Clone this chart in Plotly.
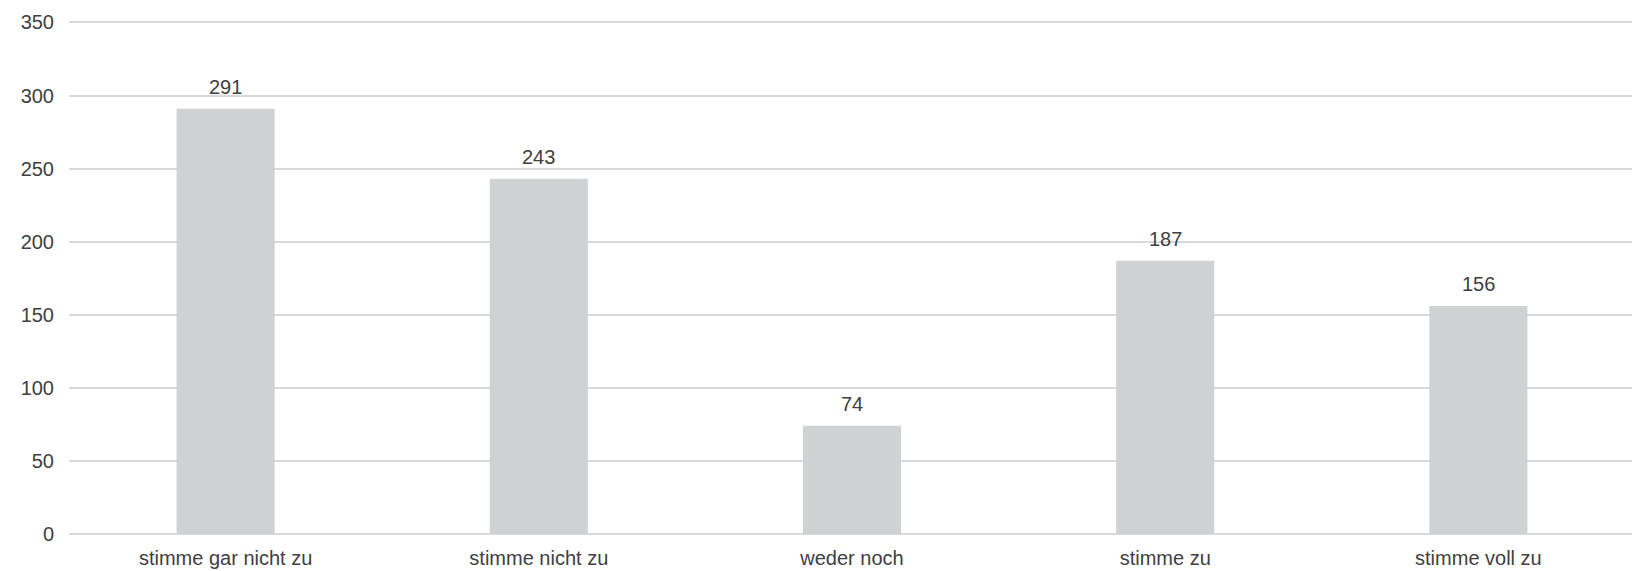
import plotly.graph_objects as go

categories = ["stimme gar nicht zu", "stimme nicht zu", "weder noch", "stimme zu", "stimme voll zu"]
values = [291, 243, 74, 187, 156]
y_ticks = [0, 50, 100, 150, 200, 250, 300, 350]

font_family = "Liberation Sans, Arial, sans-serif"
text_color = "#404040"
fsize = 20

fig = go.Figure()
fig.add_trace(go.Bar(
    x=categories,
    y=values,
    marker=dict(color="#d0d1d3", line=dict(width=0)),
    width=0.313,
    hoverinfo="x+y",
))

for c, v in zip(categories, values):
    fig.add_annotation(
        x=c, y=v, text=str(v), showarrow=False,
        yanchor="middle", yshift=22,
        font=dict(family=font_family, size=fsize, color=text_color),
    )

# page body has an 8px default margin; size the figure to fit the window
fig.update_layout(
    width=1631, height=563,
    margin=dict(l=61, r=4, t=13, b=37),
    plot_bgcolor="white", paper_bgcolor="white",
    showlegend=False,
    bargap=0.687,
    font=dict(family=font_family, size=fsize, color=text_color),
)
fig.update_xaxes(
    showgrid=False, showline=False, ticks="", automargin=False,
    ticklabelstandoff=10,
    tickfont=dict(family=font_family, size=fsize, color=text_color),
)
fig.update_yaxes(
    range=[0, 351], tickvals=y_ticks, automargin=False,
    showgrid=True, gridcolor="#d9d9d9", gridwidth=1.5,
    zeroline=True, zerolinecolor="#d9d9d9", zerolinewidth=1.5,
    showline=False, ticks="", ticklabelstandoff=14,
    tickfont=dict(family=font_family, size=fsize, color=text_color),
)

fig.write_html("out.html")
